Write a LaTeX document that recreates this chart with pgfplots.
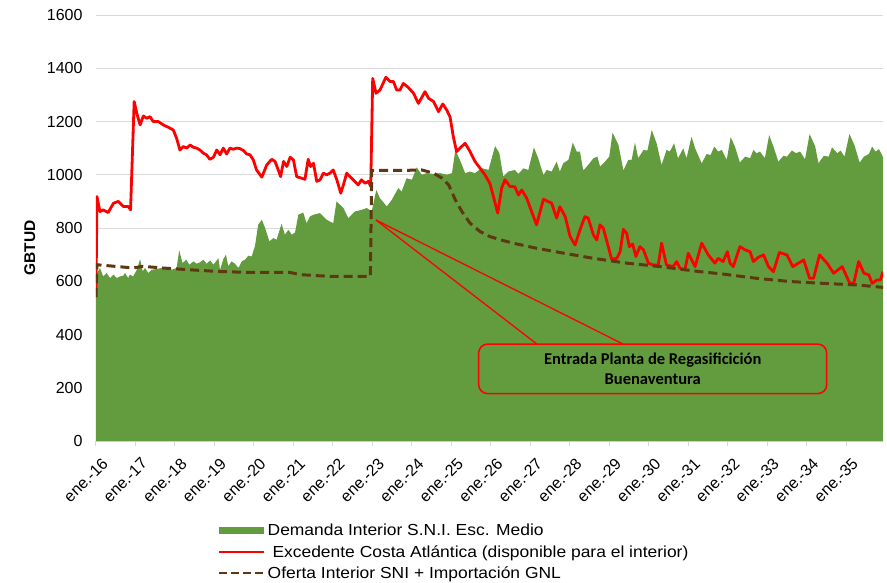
\documentclass[border=0pt]{standalone}
\usepackage{fontspec}
\setmainfont{Liberation Sans}
\newfontfamily\callfont{Carlito}
\newfontfamily\legfont{Liberation Sans}[FakeStretch=1.09]
\usepackage{pgfplots}
\pgfplotsset{compat=1.18}

\definecolor{demgreen}{RGB}{99,156,62}
\definecolor{ofbrown}{RGB}{94,56,16}
\definecolor{gridgray}{RGB}{217,217,217}

\begin{document}
\begin{tikzpicture}
\begin{axis}[
    scale only axis,
    width=787pt, height=426pt,
    xmin=0, xmax=239.2,
    ymin=0, ymax=1600,
    ytick={0,200,...,1600},
    xtick={0,12,...,228},
    xticklabels={ene.-16,ene.-17,ene.-18,ene.-19,ene.-20,ene.-21,ene.-22,ene.-23,ene.-24,ene.-25,ene.-26,ene.-27,ene.-28,ene.-29,ene.-30,ene.-31,ene.-32,ene.-33,ene.-34,ene.-35},
    separate axis lines,
    axis x line*=bottom, axis y line*=left,
    x axis line style={gridgray, line width=1pt, -},
    y axis line style={draw=none},
    ymajorgrids,
    grid style={gridgray, line width=1pt},
    tick align=outside,
    major tick length=5pt,
    xtick style={gridgray, line width=1pt},
    ytick style={draw=none},
    /pgf/number format/assume math mode=true,
    /pgf/number format/1000 sep={},
    yticklabel style={font=\fontsize{16}{19}\selectfont, xshift=-5pt},
    xticklabel style={font=\fontsize{16}{19}\selectfont, rotate=45, anchor=north east, inner sep=1pt, xshift=-3pt, yshift=-10pt},
    ylabel={GBTUD},
    ylabel style={font=\bfseries\fontsize{15.5}{18}\selectfont, at={(axis description cs:-0.084,0.453)}, anchor=center},
    legend style={at={(axis description cs:0.155,-0.19)}, anchor=north west, draw=none, fill=none,
        font=\legfont\fontsize{16}{19}\selectfont, row sep=4pt, inner sep=0pt,
        nodes={inner sep=2pt}},
    legend cell align=left,
]
\addplot[fill=demgreen, draw=none,
    legend image code/.code={\fill[demgreen] (0pt,-3.5pt) rectangle (45pt,3.5pt);}]
coordinates {
(0,560) (0.4,631) (1.2,650) (2.2,618) (3.2,631) (4.3,612) (5.3,625) (6.3,612) (7.3,618) (8.3,621) (8.8,631) (9.8,612) (10.3,625) (11.3,618) (12.4,643) (13.4,683) (14.2,637) (14.9,650) (15.9,631) (16.9,643) (18.4,646) (20,650) (21.5,650) (23,643) (24.5,650) (25.3,716) (26.3,668) (27.4,681) (28.4,662) (29.6,675) (30.6,666) (31.6,671) (32.6,681) (33.6,666) (34.7,678) (35.7,662) (37.2,687) (37.7,643) (38.7,683) (39.5,700) (40.2,656) (41.2,675) (42.2,666) (43.3,650) (44.3,675) (45.3,681) (46.3,696) (47.3,693) (48.3,731) (49.3,812) (50.4,831) (51.4,800) (52.7,750) (53.9,762) (54.9,756) (56.4,816) (57.4,775) (58.5,793) (59.5,775) (60.5,783) (61.5,850) (63,858) (64,818) (65,843)
(66.1,850) (68.1,856) (70.1,831) (72.1,818) (73.1,900) (75.2,875) (76.7,837) (78.7,862) (80.7,868) (82.3,875) (83.8,862) (85.2,943) (86.3,912) (88.4,881) (89.9,906) (91.9,950) (92.9,937) (94.4,987) (96.0,981) (97.5,1028) (99.0,1000) (100.5,1006) (102.5,1003) (104.6,1006) (106.6,1000) (108.2,1006) (109.2,1093) (110.6,1056) (112.2,1006) (113.7,1012) (115.2,1006) (117.2,1025) (119.3,1018) (121.3,1108) (122.6,1081) (123.8,993) (125.3,1012)
(127.3,1018) (128.4,1003) (129.9,1024) (131.4,1018) (133.1,1103) (134.4,1062) (136.0,999) (137.0,1018) (138.5,1012) (140.0,1049) (141.0,1012) (142.0,1043) (143.6,1056) (144.9,1121) (146.1,1087) (147.1,1087) (148.1,1016) (149.6,1037) (151.2,1062) (152.4,1068) (153.2,1031) (154.7,1049) (156.0,1068) (157.0,1158) (158.8,1112) (160.3,1016) (161.8,1056) (162.8,1056) (163.8,1121) (164.8,1062) (166.4,1093) (167.6,1091) (168.9,1168) (170.4,1118) (171.9,1037) (173.4,1093) (174.4,1087) (175.7,1118) (176.9,1062) (178.5,1099) (179.5,1062) (181.0,1143)
(182.1,1099) (184.1,1043) (185.6,1078) (186.8,1074) (187.9,1106) (189.1,1087) (190.2,1093) (191.7,1056) (192.9,1141) (194.2,1106) (195.7,1046) (197.3,1068) (198.8,1062) (199.8,1093) (200.8,1081) (201.8,1087) (203.3,1062) (204.6,1149) (205.9,1106) (207.4,1049) (208.9,1071) (210.0,1068) (211.5,1091) (212.8,1081) (214.0,1087) (215.5,1058) (216.9,1153) (218.6,1106) (219.6,1043) (221.2,1071) (222.7,1068) (223.7,1103) (225.3,1081) (226.3,1091) (227.5,1068) (229.0,1153) (230.5,1112) (232.1,1046) (233.4,1068) (234.9,1078) (235.9,1106) (236.9,1087) (238.0,1096) (239.2,1066)
} \closedcycle;
\addlegendentry{Demanda Interior S.N.I. Esc. Medio}

\addplot[red, line width=2.8pt, line join=round,
    legend image code/.code={\draw[red, line width=2.5pt] (0pt,0pt) -- (45pt,0pt);}]
coordinates {
(0,560) (0.3,918) (1.2,862) (2.2,868) (3.7,858) (5.3,893) (6.8,900) (8.3,881) (9.8,881) (10.5,868) (11.6,1275) (12.4,1231) (13.4,1187) (14.4,1221) (15.4,1212) (16.4,1218) (17.4,1200) (18.9,1200) (20.5,1187) (21.5,1181) (22.5,1175) (23.5,1168) (24.5,1137) (25.5,1093) (26.5,1106) (27.6,1100) (28.6,1112) (29.6,1103) (30.6,1100) (31.6,1093) (32.6,1081) (33.6,1075) (34.6,1058) (35.7,1066) (36.7,1093) (37.7,1075) (38.7,1100) (39.7,1078) (40.7,1100) (41.7,1096) (42.8,1100) (43.8,1098) (44.8,1091) (45.8,1078) (46.8,1075) (47.8,1056) (48.8,1018) (50.4,991) (51.9,1037) (53.4,1058) (54.4,1050) (55.4,1018) (56.1,993) (57,1050) (58,1031) (59,1066) (60,1056) (61,993) (62.5,987) (63.5,983) (64.5,1058) (65.2,1031)
(66.1,1043) (67.1,975) (68.1,981) (69.1,1006) (70.1,1000) (71.1,1006) (72.1,1018) (73.2,981) (74.4,931) (75.2,962) (76.2,1006) (77.2,993) (78.2,981) (79.7,962) (80.7,981) (81.8,968) (82.8,975) (83.5,956) (84.1,1362) (85.1,1306) (86.3,1318) (88.1,1366) (89.4,1350) (90.4,1350) (91.4,1318) (92.4,1318) (93.4,1343) (94.9,1328) (96.5,1306) (98,1268) (100,1312) (101.1,1287) (102.6,1275) (104.1,1237) (105.4,1266) (106.6,1243) (107.6,1218) (108.6,1143) (109.6,1087) (110.6,1100) (112.2,1118) (113.7,1087) (115.2,1050) (116.7,1025) (118.2,1000) (119.7,968) (120.8,918) (122.1,856) (123.3,950) (124.3,981) (125.8,956)
(127.3,955) (128.4,924) (129.4,943) (130.9,912) (132.4,862) (133.9,812) (136,908) (137.5,899) (138.5,893) (140,837) (141,880) (142.6,843) (144.1,768) (145.6,736) (147.1,793) (148.6,843) (149.6,837) (151.2,774) (152.2,755) (153.2,812) (154.2,799) (155.7,730) (156.7,683) (158.3,686) (159.3,711) (160.3,795) (161.3,780) (162.1,730) (163.1,740) (164.1,693) (165.3,730) (166.4,718) (167.9,668) (169.4,661) (170.9,661) (171.9,743) (173.4,661) (175.4,655) (176.5,674) (177.5,649) (179,643) (180,705)
(182.1,655) (184.1,743) (186.1,699) (188.1,668) (189.1,686) (190.6,674) (191.9,711) (192.7,668) (193.7,655) (195.7,730) (197.3,718) (198.8,711) (199.8,674) (201.3,690) (202.9,699) (204.4,655) (205.9,636) (207.7,708) (210,699) (211.8,655) (213.5,668) (215.1,680) (216.9,611) (218.1,611) (219.9,699) (222.2,668) (224.2,630) (226.8,655) (229.1,592) (230.3,592) (231.8,674) (233.4,630) (234.9,624) (235.9,592) (237.4,605) (238.4,605) (239.2,636)
};
\addlegendentry{\ Excedente Costa Atlántica (disponible para el interior)}

\addplot[ofbrown, line width=3pt, dash pattern=on 9pt off 5pt,
    legend image code/.code={\draw[ofbrown, line width=2.5pt, dash pattern=on 8pt off 4pt] (0pt,0pt) -- (45pt,0pt);}]
coordinates {
(0,540) (0.3,662) (11.3,650) (14.3,656) (20,650) (28.6,643) (36.7,637) (46.8,633) (59,633) (62,625) (67.1,621) (72.1,618) (83.4,618) (83.8,1016) (92.4,1016) (99,1018) (102.6,1006) (105.2,987) (107.2,962) (109.2,906) (111.2,862) (113.7,818) (116.7,787) (119.7,768) (122.8,756) (126.8,743) (133.9,724) (141,708) (151.2,686) (161.3,668) (171.4,655) (183.6,636) (190.6,627) (200.8,611) (210.9,599) (221.2,592) (231.3,586) (239.2,577)
};
\addlegendentry{Oferta Interior SNI + Importación GNL}

\draw[red, line width=1.3pt] (axis cs:85.1,830) -- (axis cs:134,364);
\draw[red, line width=1.3pt] (axis cs:85.1,830) -- (axis cs:160.2,364);
\draw[red, line width=1.5pt, rounded corners=9pt] (axis cs:116.3,178) rectangle (axis cs:222.1,364);
\node[font=\callfont\bfseries\fontsize{16.5}{20}\selectfont, align=center] at (axis cs:169.2,271)
    {Entrada Planta de Regasificición\\Buenaventura};
\end{axis}
\pgfresetboundingbox
\path[use as bounding box] (-96pt,-141pt) rectangle (791pt,441pt);
\end{tikzpicture}
\end{document}
